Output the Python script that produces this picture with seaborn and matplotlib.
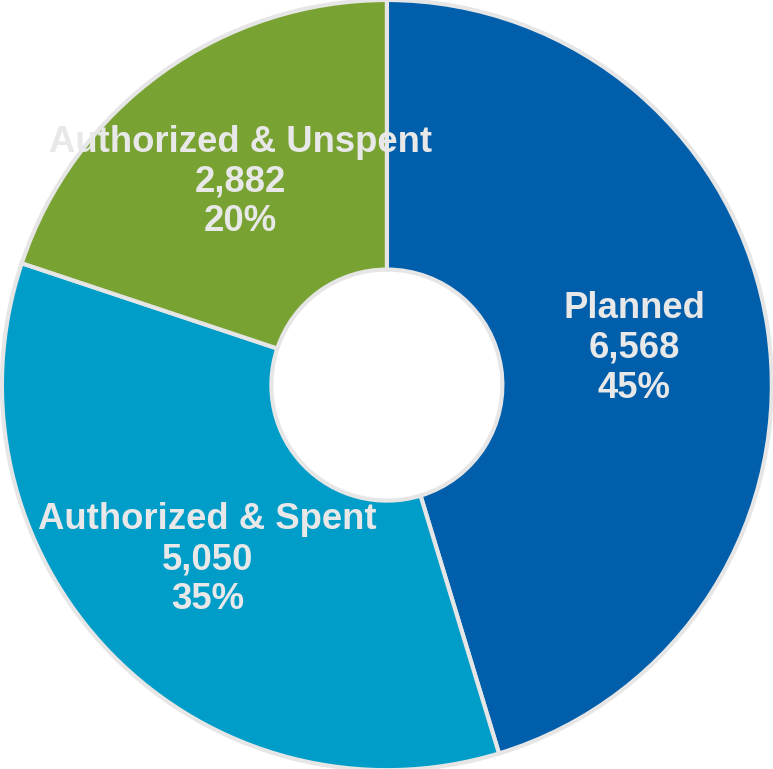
import matplotlib
matplotlib.use('Agg')
import matplotlib.pyplot as plt
import seaborn as sns

labels = ['Planned', 'Authorized & Spent', 'Authorized & Unspent']
values = [6568, 5050, 2882]
colors = ['#005EAA', '#009DC8', '#78A232']

sns.set_style('white')
plt.rcParams['font.family'] = ['Liberation Sans', 'DejaVu Sans']

total = sum(values)
names = iter(labels)


def fmt(pct):
    v = int(round(pct * total / 100.0))
    return f"{next(names)}\n{v:,}\n{pct:.0f}%"


fig = plt.figure(figsize=(7.73, 7.69), dpi=100)
ax = fig.add_axes([0, 0, 1, 1])

ax.pie(values, colors=colors, startangle=90, counterclock=False,
       radius=1.0, autopct=fmt, pctdistance=0.65,
       wedgeprops=dict(width=0.7, edgecolor='#E6E6E6', linewidth=3),
       textprops=dict(color='#E8E8E8', fontsize=26.3, fontweight='bold'))
for t in ax.texts:
    t.set_linespacing(1.18)

ax.set_xlim(-1.005, 1.003)
ax.set_ylim(-0.997, 1.0)
ax.set_aspect('auto')
ax.axis('off')

fig.savefig('out.png', dpi=100)
